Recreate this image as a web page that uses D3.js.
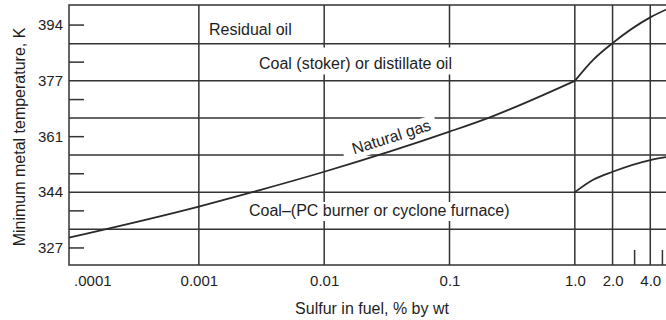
<!DOCTYPE html>
<html>
<head>
<meta charset="utf-8">
<script src="https://cdn.jsdelivr.net/npm/d3@7"></script>
<style>
  body { margin: 0; background: #fff; }
  svg { display: block; font-family: "Liberation Sans", Arial, Helvetica, sans-serif; }
</style>
</head>
<body>
<svg id="chart" width="666" height="320"></svg>
<script>
// Sulfur content of the fuel, % by weight (log axis)
const sulfurTicks = [0.0001, 0.001, 0.01, 0.1, 1, 2, 4];
const sulfurTickLabels = [".0001", "0.001", "0.01", "0.1", "1.0", "2.0", "4.0"];
const sulfurGrid = [0.001, 0.01, 0.1, 1, 2, 4];
const sulfurMinor = [3, 5];

// Metal temperature marks, K (one every 10 °F); every third one is labelled
const tempMarks = [327.6, 333.2, 338.7, 344.3, 349.8, 355.4, 360.9, 366.5, 372.0, 377.6, 383.2, 388.7, 394.3];
const tempTickLabels = ["327", "344", "361", "377", "394"];

// Natural gas
const gasSulfur = [0.000092, 0.001, 0.0025, 0.01, 0.1, 0.21, 1.0];
const gasTemp   = [330.7, 340.0, 344.0, 350.4, 362.4, 366.7, 377.6];
// Residual oil / coal (stoker) above 1 % sulfur
const oilSulfur = [1.0, 1.4, 2.0, 4.0, 5.4];
const oilTemp   = [377.6, 383.9, 388.9, 396.6, 399.0];
// Coal, PC burner or cyclone furnace
const pcSulfur  = [1.0, 1.4, 2.0, 4.0, 5.4];
const pcTemp    = [344.3, 348.0, 350.4, 353.9, 354.8];

const regionLabels = ["Residual oil", "Coal (stoker) or distillate oil", "Natural gas", "Coal\u2013(PC burner or cyclone furnace)"];
const xTitle = "Sulfur in fuel, % by wt";
const yTitle = "Minimum metal temperature, K";

// ---- layout ----
const plot = { left: 69, top: 5, right: 675, bottom: 265 };
const ink = "#333";
const textInk = "#1e1e1e";

const svg = d3.select("#chart");

const x = d3.scaleLog().domain([0.000092, 6.3]).range([plot.left, plot.right]);
const y = d3.scaleLinear().domain([322.5, 400.3]).range([plot.bottom, plot.top]);

const gridLayer = svg.append("g");
const boxLayer = svg.append("g");
const curveLayer = svg.append("g");
const textLayer = svg.append("g").attr("fill", textInk).attr("font-size", 16);

// horizontal rules: full lines alternate with short ticks off the left edge
gridLayer.selectAll("line.h").data(tempMarks).join("line")
  .attr("class", "h")
  .attr("x1", plot.left)
  .attr("x2", (d, i) => i % 2 ? plot.right : plot.left + 15)
  .attr("y1", d => y(d)).attr("y2", d => y(d))
  .attr("stroke", ink).attr("stroke-width", 1.5);

// vertical rules at decades and at 2 and 4 %
gridLayer.selectAll("line.v").data(sulfurGrid).join("line")
  .attr("class", "v")
  .attr("x1", d => x(d)).attr("x2", d => x(d))
  .attr("y1", plot.top).attr("y2", plot.bottom)
  .attr("stroke", ink).attr("stroke-width", 1.5);

// short ticks at 3 and 5 %
gridLayer.selectAll("line.m").data(sulfurMinor).join("line")
  .attr("class", "m")
  .attr("x1", d => x(d)).attr("x2", d => x(d))
  .attr("y1", plot.bottom - 15).attr("y2", plot.bottom)
  .attr("stroke", ink).attr("stroke-width", 1.5);

gridLayer.append("rect")
  .attr("x", plot.left).attr("y", plot.top)
  .attr("width", plot.right - plot.left).attr("height", plot.bottom - plot.top)
  .attr("fill", "none").attr("stroke", ink).attr("stroke-width", 1.5);

// axes (labels only)
const labelledTemps = tempMarks.filter((d, i) => i % 3 === 0);
const yAxis = svg.append("g")
  .attr("transform", `translate(${plot.left},0)`)
  .call(d3.axisLeft(y).tickValues(labelledTemps).tickSize(0).tickPadding(6)
    .tickFormat((d, i) => tempTickLabels[i]));
const xAxis = svg.append("g")
  .attr("transform", `translate(0,${plot.bottom})`)
  .call(d3.axisBottom(x).tickValues(sulfurTicks).tickSize(0).tickPadding(10)
    .tickFormat((d, i) => sulfurTickLabels[i]));
[yAxis, xAxis].forEach(a => {
  a.select(".domain").remove();
  a.attr("font-size", 15).attr("font-family", null);
  a.selectAll("text").attr("fill", textInk);
});
xAxis.selectAll(".tick text").filter(d => d === 0.0001).attr("text-anchor", "start");

// region labels with white backing that interrupts the rules
function boxed(text, tx, ty, angle, pad) {
  const g = textLayer.append("g").attr("transform", `translate(${tx},${ty}) rotate(${angle})`);
  const t = g.append("text").text(text);
  const b = t.node().getBBox();
  boxLayer.append("rect")
    .attr("transform", `translate(${tx},${ty}) rotate(${angle})`)
    .attr("x", b.x - pad[3]).attr("y", b.y - pad[0])
    .attr("width", b.width + pad[1] + pad[3]).attr("height", b.height + pad[0] + pad[2])
    .attr("fill", "#fff");
}
boxed(regionLabels[0], 209, 35, 0, [2, 3, 2, 3]);
boxed(regionLabels[1], 259, 68.5, 0, [7, 3, 3, 3]);
boxed(regionLabels[2], 354, 154.5, -17.6, [0, 6, 2, 10]);
boxed(regionLabels[3], 249, 216, 0, [0, 3, 2, 3]);

// curves
const line = d3.line().x(d => x(d[0])).y(d => y(d[1])).curve(d3.curveMonotoneX);
const series = [
  d3.zip(gasSulfur, gasTemp),
  d3.zip(oilSulfur, oilTemp),
  d3.zip(pcSulfur, pcTemp)
];
curveLayer.selectAll("path").data(series).join("path")
  .attr("d", line)
  .attr("fill", "none").attr("stroke", "#2a2a2a").attr("stroke-width", 1.8);

// axis titles
svg.append("text")
  .attr("x", 372).attr("y", 314)
  .attr("text-anchor", "middle").attr("font-size", 16).attr("fill", textInk)
  .text(xTitle);
svg.append("text")
  .attr("transform", "translate(25,137) rotate(-90)")
  .attr("text-anchor", "middle").attr("font-size", 16).attr("fill", textInk)
  .text(yTitle);
</script>
</body>
</html>
